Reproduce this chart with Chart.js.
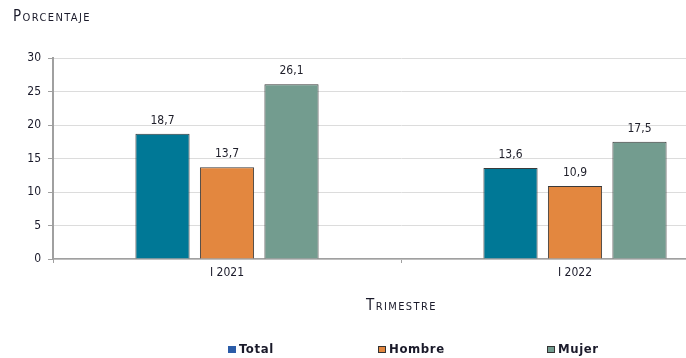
<!DOCTYPE html>
<html>
<head>
<meta charset="utf-8">
<script src="https://cdn.jsdelivr.net/npm/chart.js@4/dist/chart.umd.min.js"></script>
<style>
  html, body { margin: 0; padding: 0; background: #fff; overflow: hidden; }
  #wrap { position: relative; width: 686px; height: 358px; overflow: hidden; }
  #box { position: absolute; left: 0; top: 0; width: 760px; height: 358px; }
  .cap { position: absolute; font-family: "DejaVu Sans Condensed", "DejaVu Sans", sans-serif;
         font-variant: small-caps; font-size: 15px; color: #1a1a2a; letter-spacing: 1.4px; }
  #legend { position: absolute; top: 341px; left: 0; width: 686px; height: 16px;
            font-family: "DejaVu Sans Condensed", "DejaVu Sans", sans-serif; font-weight: bold;
            font-size: 13px; letter-spacing: 0.6px; color: #1a1a2a; }
  .item { position: absolute; top: 0; white-space: nowrap; }
  .sw { display: inline-block; width: 8px; height: 7px; margin-right: 3px; vertical-align: 0px;
        box-sizing: border-box; border: 1px solid #333; }
</style>
</head>
<body>
<div id="wrap">
  <div id="box"><canvas id="c" width="760" height="358"></canvas></div>
  <div class="cap" id="ytitle" style="left:13px; top:7px;">Porcentaje</div>
  <div class="cap" id="xtitle" style="left:366px; top:296px;">Trimestre</div>
  <div id="legend"></div>
</div>
<script>
// Quarters and the rate per group (percent)
const categories = ["I 2021", "I 2022"];
const seriesNames = ["Total", "Hombre", "Mujer"];
const totalValues = [18.7, 13.6];
const hombreValues = [13.7, 10.9];
const mujerValues = [26.1, 17.5];
const yTicks = [0, 5, 10, 15, 20, 25, 30];

const barColors = ["#007896", "#E3873F", "#739C8F"];
const legendColors = ["#2B5CA8", "#E3873F", "#739C8F"];
const legendX = [228, 378, 547];

const fontFamily = '"DejaVu Sans Condensed", "DejaVu Sans", sans-serif';

// Value labels above each bar, with a decimal comma
const valueLabels = {
  id: 'valueLabels',
  afterDatasetsDraw(chart) {
    const ctx = chart.ctx;
    ctx.save();
    ctx.font = '12px ' + fontFamily;
    ctx.fillStyle = '#1f1f2a';
    ctx.textAlign = 'center';
    ctx.textBaseline = 'bottom';
    chart.data.datasets.forEach((ds, i) => {
      chart.getDatasetMeta(i).data.forEach((bar, j) => {
        ctx.fillText(ds.data[j].toFixed(1).replace('.', ','), bar.x, bar.y - 7);
      });
    });
    ctx.restore();
  }
};

const seriesValues = [totalValues, hombreValues, mujerValues];
new Chart(document.getElementById('c'), {
  type: 'bar',
  data: {
    labels: categories,
    datasets: seriesNames.map((name, i) => ({
      label: name,
      data: seriesValues[i],
      backgroundColor: barColors[i],
      borderColor: '#3a3a3a',
      borderWidth: 1,
      categoryPercentage: 0.556,
      barPercentage: 0.84
    }))
  },
  options: {
    responsive: false,
    animation: false,
    devicePixelRatio: 1,
    layout: { padding: { left: 0, right: 11, top: 58, bottom: 39 } },
    plugins: { legend: { display: false }, tooltip: { enabled: false } },
    scales: {
      x: {
        grid: { display: true, drawOnChartArea: false, offset: true, tickLength: 4, color: '#a0a0a0' },
        border: { color: '#a0a0a0', width: 1.5 },
        ticks: { color: '#1a1a2a', font: { family: fontFamily, size: 12 }, padding: 3 },
        afterFit(scale) { scale.height = 60; }
      },
      y: {
        min: 0, max: 30,
        afterBuildTicks(scale) { scale.ticks = yTicks.map(v => ({ value: v })); },
        grid: { color: '#dcdcdc', lineWidth: 1, tickLength: 5, tickColor: '#a0a0a0' },
        border: { color: '#a0a0a0', width: 2 },
        ticks: { color: '#1a1a2a', font: { family: fontFamily, size: 12 }, padding: 7 },
        afterFit(scale) { scale.width = 53; }
      }
    }
  },
  plugins: [valueLabels]
});

// Legend row
const legend = document.getElementById('legend');
seriesNames.forEach((name, i) => {
  const item = document.createElement('div');
  item.className = 'item';
  item.style.left = legendX[i] + 'px';
  const sw = document.createElement('span');
  sw.className = 'sw';
  sw.style.background = legendColors[i];
  if (i === 0) sw.style.borderColor = legendColors[i];
  item.appendChild(sw);
  item.appendChild(document.createTextNode(name));
  legend.appendChild(item);
});
</script>
</body>
</html>
